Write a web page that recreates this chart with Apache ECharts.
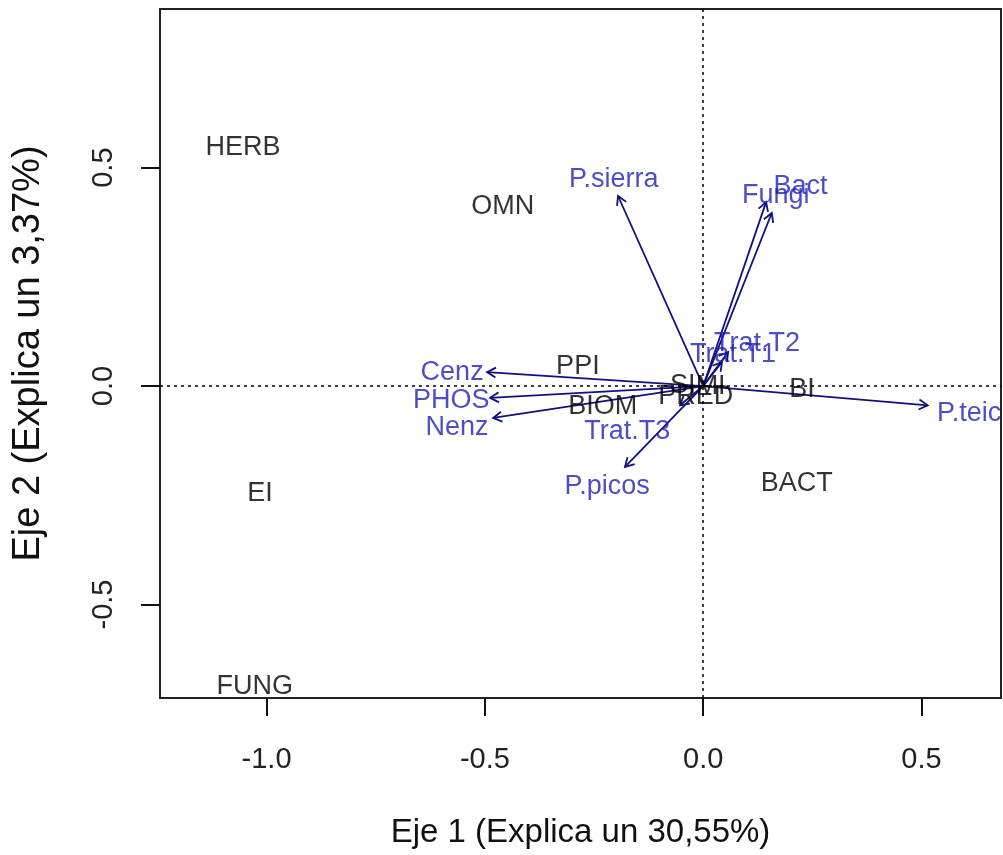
<!DOCTYPE html>
<html>
<head>
<meta charset="utf-8">
<script src="https://cdn.jsdelivr.net/npm/echarts@6/dist/echarts.min.js"></script>
<style>
	html, body {margin: 0; padding: 0; background: #fff;}
	#chart {width: 1003px; height: 855px;}
</style>
</head>
<body>
<div id="chart"></div>
<script>
// etiquetas negras (grupos / indices)
var grupoNombres = ['HERB', 'OMN', 'PPI', 'BIOM', 'EI', 'FUNG', 'BACT', 'BI', 'PRED', 'SI', 'MI'];
var grupoX = [-1.054, -0.459, -0.287, -0.230, -1.015, -1.027, 0.214, 0.226, -0.017, -0.047, 0.017];
var grupoY = [0.545, 0.410, 0.044, -0.048, -0.245, -0.687, -0.224, -0.009, -0.025, 0.002, -0.002];

// flechas azules (variables ajustadas)
var varNombres = ['P.sierra', 'Bact', 'Fungi', 'Trat.T2', 'Trat.T1', 'Trat.T3', 'P.picos', 'Cenz', 'PHOS', 'Nenz', 'P.teic'];
var flechaX = [-0.195, 0.144, 0.157, 0.057, 0.043, -0.053, -0.179, -0.495, -0.488, -0.481, 0.514];
var flechaY = [0.435, 0.421, 0.396, 0.078, 0.055, -0.044, -0.185, 0.032, -0.027, -0.073, -0.044];
var etiquetaX = [-0.205, 0.223, 0.166, 0.123, 0.068, -0.174, -0.220, -0.575, -0.577, -0.564, 0.609];
var etiquetaY = [0.472, 0.456, 0.437, 0.098, 0.071, -0.103, -0.231, 0.032, -0.034, -0.094, -0.062];

var ticksX = [-1.0, -0.5, 0.0, 0.5];
var ticksY = [-0.5, 0.0, 0.5];

var fuente = '"Liberation Sans", Arial, sans-serif';

function echart1(){
	var myChart = echarts.init(document.getElementById('chart'));

	var grupos = grupoNombres.map(function(n, i){ return {name: n, value: [grupoX[i], grupoY[i]]}; });
	var etiquetas = varNombres.map(function(n, i){ return {name: n, value: [etiquetaX[i], etiquetaY[i]]}; });
	var flechas = flechaX.map(function(x, i){ return [x, flechaY[i]]; });

	var option = {
		animation: false,
		backgroundColor: '#fff',
		grid: {
			left: 160,
			right: 2,
			top: 9,
			bottom: 157,
			show: true,
			borderColor: '#222',
			borderWidth: 2
		},
		xAxis: {
			type: 'value',
			min: -1.244,
			max: 0.682,
			name: 'Eje 1 (Explica un 30,55%)',
			nameLocation: 'middle',
			nameGap: 118,
			nameTextStyle: {color: '#111', fontSize: 33, fontFamily: fuente},
			axisLine: {show: false, onZero: false},
			axisTick: {show: true, customValues: ticksX, length: 18, lineStyle: {color: '#111', width: 2}},
			axisLabel: {
				customValues: ticksX,
				margin: 47,
				color: '#222',
				fontSize: 29,
				fontFamily: fuente,
				formatter: function(v){ return v.toFixed(1); }
			},
			splitLine: {show: false}
		},
		yAxis: {
			type: 'value',
			min: -0.714,
			max: 0.863,
			name: 'Eje 2 (Explica un 3,37%)',
			nameLocation: 'middle',
			nameGap: 112,
			nameRotate: 90,
			nameTextStyle: {color: '#111', fontSize: 38, fontFamily: fuente},
			axisLine: {show: false, onZero: false},
			axisTick: {show: true, customValues: ticksY, length: 19, lineStyle: {color: '#111', width: 2}},
			axisLabel: {
				customValues: ticksY,
				rotate: 90,
				margin: 42,
				color: '#222',
				fontSize: 29,
				fontFamily: fuente,
				formatter: function(v){ return v.toFixed(1); }
			},
			splitLine: {show: false}
		},
		series: [{
			// lineas de referencia en cero
			type: 'line',
			data: [],
			markLine: {
				silent: true,
				symbol: 'none',
				label: {show: false},
				lineStyle: {color: '#000', type: [3, 4], width: 1.5},
				data: [{xAxis: 0}, {yAxis: 0}]
			}
		}, {
			type: 'custom',
			clip: true,
			data: flechas,
			renderItem: function(params, api){
				var o = api.coord([0, 0]);
				var p = api.coord([api.value(0), api.value(1)]);
				var ang = Math.atan2(p[1] - o[1], p[0] - o[0]);
				var L = 10, a = Math.PI / 6;
				var h1 = [p[0] - L * Math.cos(ang - a), p[1] - L * Math.sin(ang - a)];
				var h2 = [p[0] - L * Math.cos(ang + a), p[1] - L * Math.sin(ang + a)];
				var st = {stroke: '#10107e', lineWidth: 1.8, fill: null};
				return {
					type: 'group',
					children: [
						{type: 'line', shape: {x1: o[0], y1: o[1], x2: p[0], y2: p[1]}, style: st},
						{type: 'polyline', shape: {points: [h1, p, h2]}, style: st}
					]
				};
			}
		}, {
			type: 'scatter',
			data: grupos,
			symbolSize: 1,
			itemStyle: {color: 'rgba(0,0,0,0)'},
			label: {
				show: true,
				position: 'inside',
				formatter: '{b}',
				color: '#000',
				fontSize: 27,
				fontFamily: fuente
			}
		}, {
			type: 'scatter',
			data: etiquetas,
			symbolSize: 1,
			itemStyle: {color: 'rgba(0,0,0,0)'},
			label: {
				show: true,
				position: 'inside',
				formatter: '{b}',
				color: '#2020b8',
				fontSize: 27,
				fontFamily: fuente
			}
		}]
	};

	myChart.setOption(option);
	window.addEventListener("resize", function(){
		myChart.resize();
	});
}

echart1();
</script>
</body>
</html>
